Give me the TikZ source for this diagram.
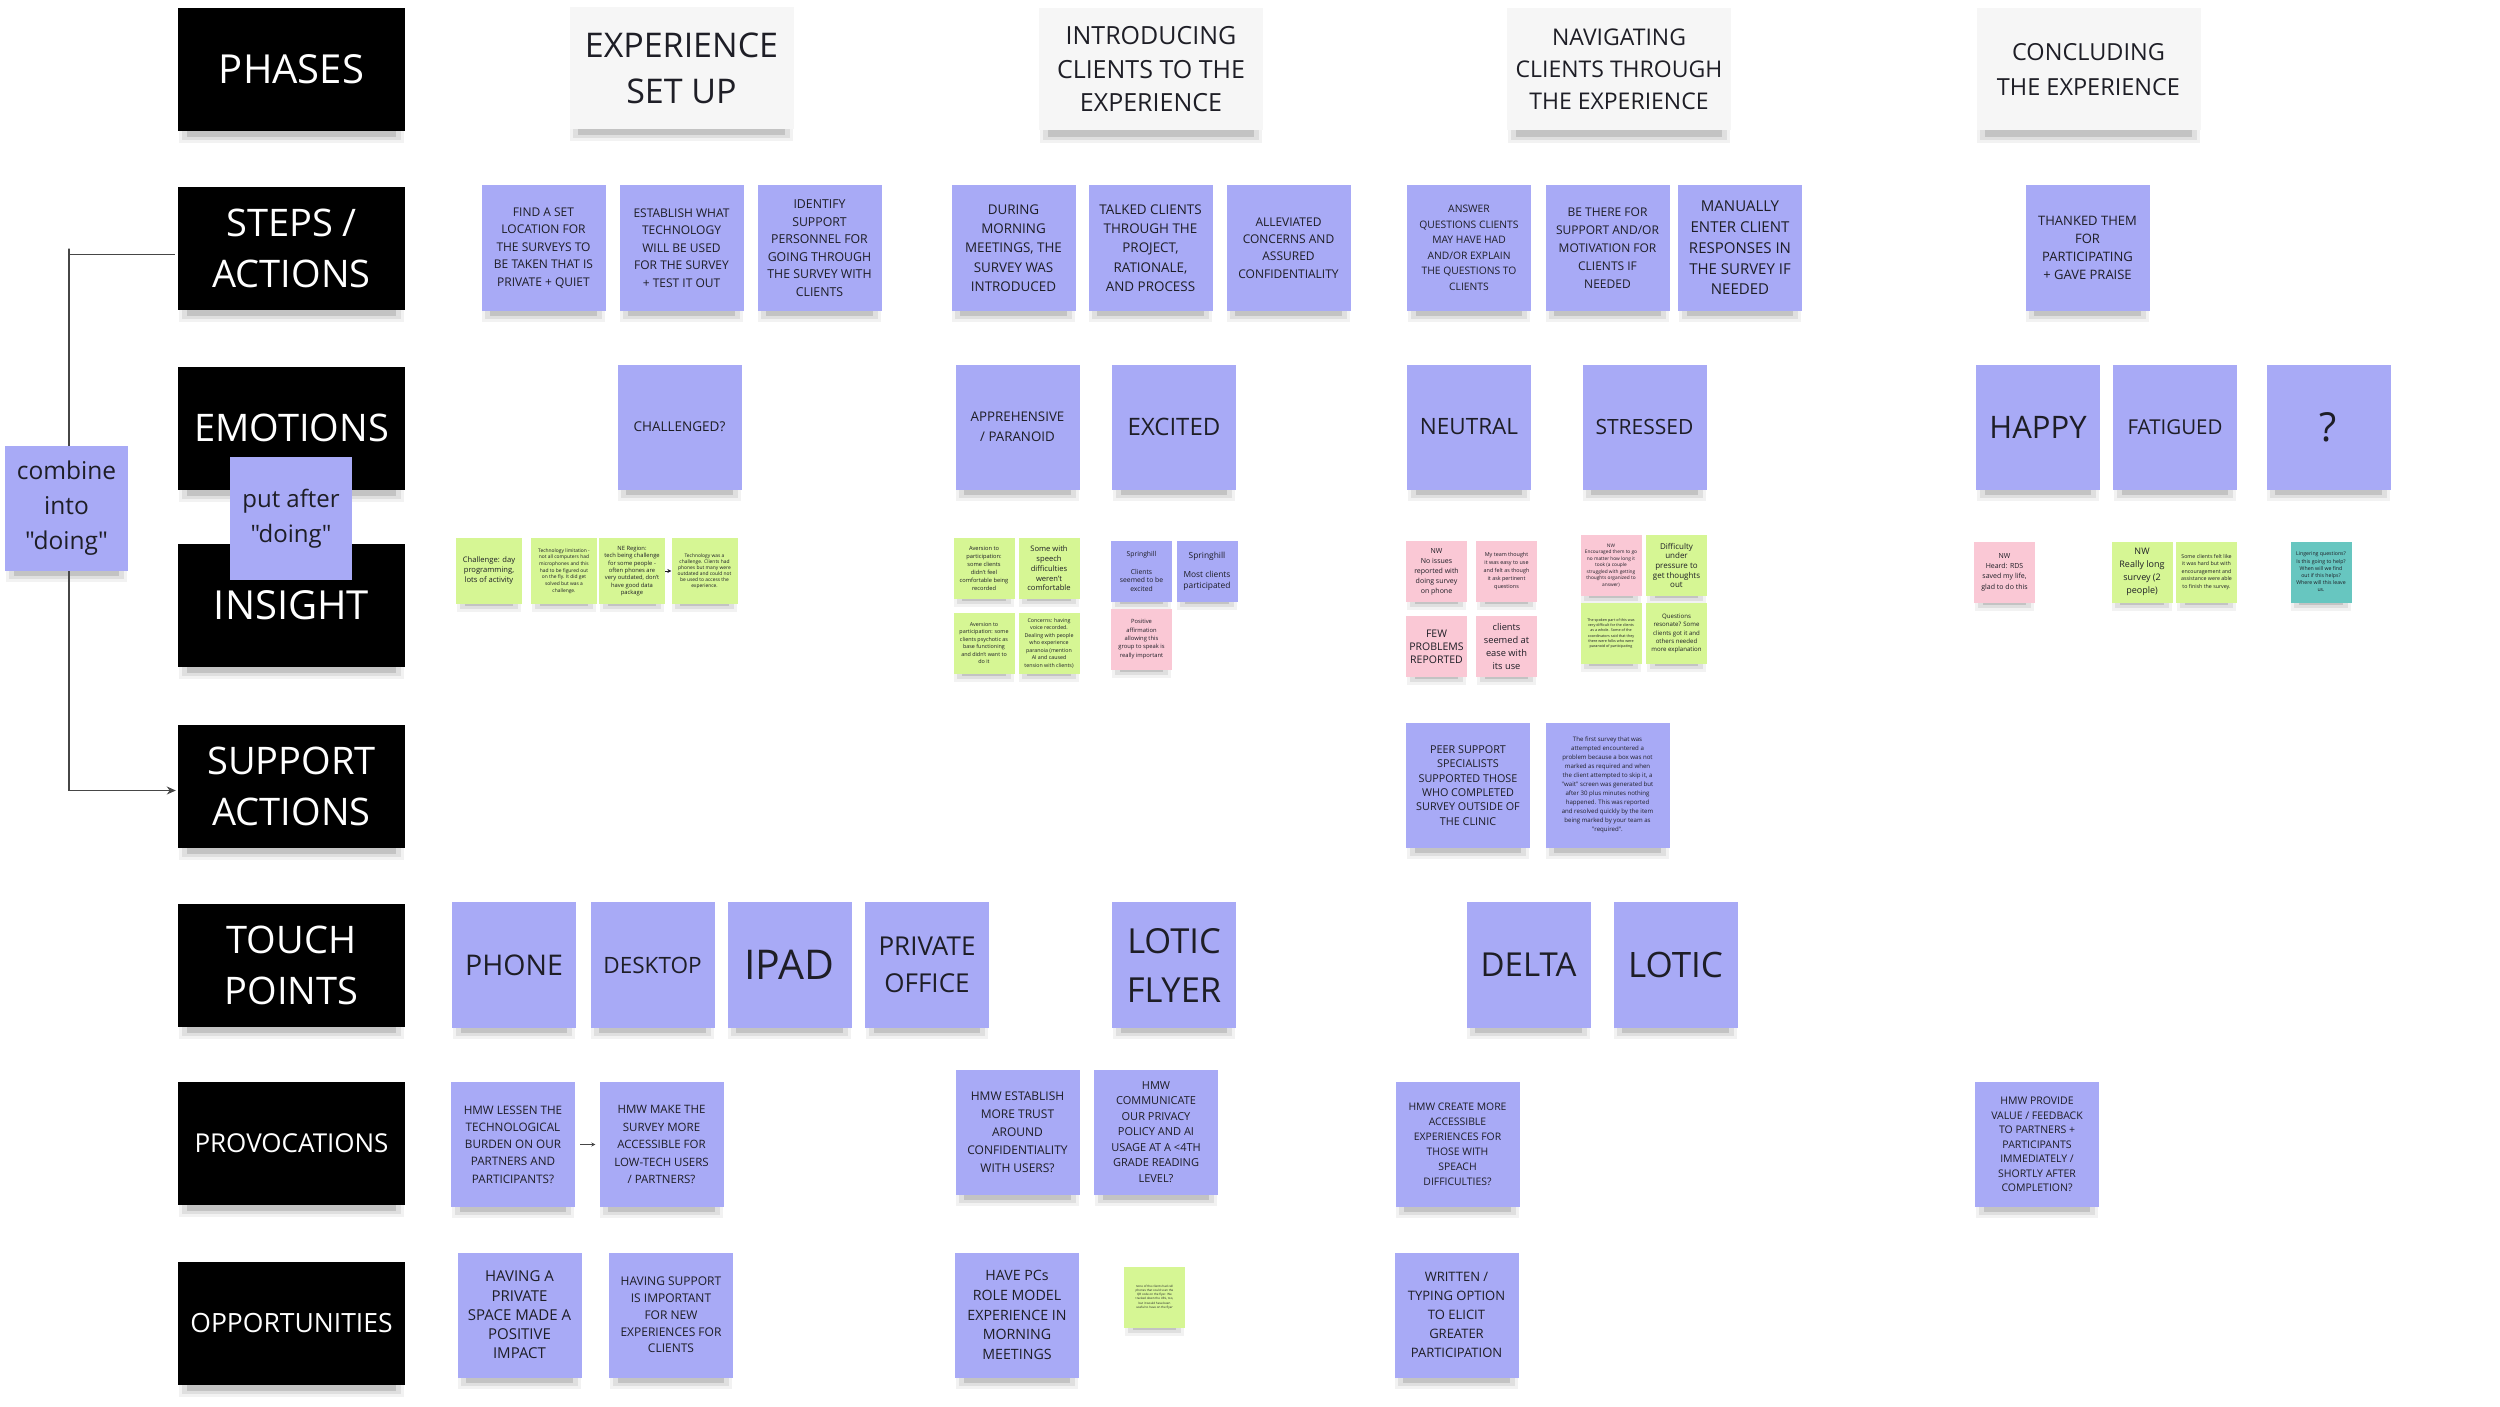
\documentclass[tikz,border=0pt]{standalone}
\usepackage{fontspec}
\setmainfont{Open Sans}
\newfontfamily\osq{Open Sans}
\usetikzlibrary{arrows.meta,calc}
\pgfdeclarelayer{paper}
\pgfdeclarelayer{shade}
\pgfsetlayers{paper,shade,main}
\definecolor{pur}{RGB}{168,170,246}
\definecolor{lim}{RGB}{214,246,148}
\definecolor{pnk}{RGB}{250,200,213}
\definecolor{tea}{RGB}{103,198,192}
\definecolor{ink}{RGB}{30,30,38}
\definecolor{hdr}{RGB}{246,246,246}
\definecolor{lnk}{RGB}{70,70,70}
\newcommand\fsz[2]{\fontsize{#1}{#2}\selectfont}
\newcommand\nshadow[2]{%
  \fill[black,opacity=.05] ($(#1.south west)+(1,#2+3)$) rectangle ($(#1.south east)+(-1,-12)$);
  \fill[black,opacity=.08] ($(#1.south west)+(4,#2)$) rectangle ($(#1.south east)+(-4,-12)$);
  \fill[black,opacity=.12] ($(#1.south west)+(9,#2-3)$) rectangle ($(#1.south east)+(-9,-12)$);
}
\begin{document}
\begin{tikzpicture}[x=1pt,y=-1pt,
  note/.style={inner sep=0pt,align=center,text=ink},
  big/.style={note,minimum width=124pt,minimum height=125pt},
  sm/.style={note,minimum width=61pt,minimum height=61pt},
  P/.style={fill=pur},G/.style={fill=lim},K/.style={fill=pnk},T/.style={fill=tea},
  lab/.style={fill=black,text=white,minimum width=227pt,minimum height=123pt,inner sep=0pt,align=center},
  hd/.style={fill=hdr,text=ink,minimum width=224pt,minimum height=122pt,inner sep=0pt,align=center},
  conn/.style={draw=lnk,line width=1.3pt}]
\begin{pgfonlayer}{paper}
\fill[white] (0,0) rectangle (2500,1407);
\end{pgfonlayer}
\useasboundingbox (0,0) rectangle (2500,1407);

% row labels
\node[lab,font=\fsz{40}{51}] (phases) at (291.5,69.5) {PHASES};
\node[lab,font=\fsz{38}{51}] (steps) at (291.5,248.5) {STEPS /\\ACTIONS};
\node[lab,font=\fsz{38}{51}] (emotions) at (291.5,428) {EMOTIONS};
\node[lab,font=\fsz{40}{51}] (insight) at (291.5,605.5) {INSIGHT};
\node[lab,font=\fsz{38}{51}] (support) at (291.5,786.5) {SUPPORT\\ACTIONS};
\node[lab,font=\fsz{38}{51}] (touch) at (291.5,965.5) {TOUCH\\POINTS};
\node[lab,font=\fsz{26}{34}] (provoc) at (291.5,1143.5) {PROVOCATIONS};
\node[lab,font=\fsz{26.5}{34}] (opps) at (291.5,1323) {OPPORTUNITIES};

% connector on the left
\coordinate (lft) at (69,0);
\draw[conn,-{Stealth[length=9pt,width=8pt]},shorten <=3pt,shorten >=2pt]
  ([yshift=-6pt]steps.west) -| (lft |- steps.west) |- ([yshift=-4pt]support.west);

% phase headers
\node[hd,font=\fsz{34}{46}] (h1) at (681.5,68) {EXPERIENCE\\SET UP};
\node[hd,font=\fsz{25}{33.5}] (h2) at (1151,69.5) {INTRODUCING\\CLIENTS TO THE\\EXPERIENCE};
\node[hd,font=\fsz{23}{32}] (h3) at (1619,69.5) {NAVIGATING\\CLIENTS THROUGH\\THE EXPERIENCE};
\node[hd,font=\fsz{23.5}{35}] (h4) at (2088.5,69.5) {CONCLUDING\\THE EXPERIENCE};

% steps / actions
\node[big,P,font=\fsz{12}{17.5}] (s1) at (543.5,248) {FIND A SET\\LOCATION FOR\\THE SURVEYS TO\\BE TAKEN THAT IS\\PRIVATE + QUIET};
\node[big,P,font=\fsz{12}{17.5}] (s2) at (681.5,248) {ESTABLISH WHAT\\TECHNOLOGY\\WILL BE USED\\FOR THE SURVEY\\+ TEST IT OUT};
\node[big,P,font=\fsz{12.3}{17.5}] (s3) at (819.5,248) {IDENTIFY\\SUPPORT\\PERSONNEL FOR\\GOING THROUGH\\THE SURVEY WITH\\CLIENTS};
\node[big,P,font=\fsz{13.4}{19.3}] (s4) at (1013.5,248) {DURING\\MORNING\\MEETINGS, THE\\SURVEY WAS\\INTRODUCED};
\node[big,P,font=\fsz{13.4}{19.3}] (s5) at (1150.5,248) {TALKED CLIENTS\\THROUGH THE\\PROJECT,\\RATIONALE,\\AND PROCESS};
\node[big,P,font=\fsz{12}{17.3}] (s6) at (1288.5,248) {ALLEVIATED\\CONCERNS AND\\ASSURED\\CONFIDENTIALITY};
\node[big,P,font=\fsz{10.3}{15.5}] (s7) at (1469,248) {ANSWER\\QUESTIONS CLIENTS\\MAY HAVE HAD\\AND/OR EXPLAIN\\THE QUESTIONS TO\\CLIENTS};
\node[big,P,font=\fsz{12}{18}] (s8) at (1607.5,248) {BE THERE FOR\\SUPPORT AND/OR\\MOTIVATION FOR\\CLIENTS IF\\NEEDED};
\node[big,P,font=\fsz{15}{20.7}] (s9) at (1740,248) {MANUALLY\\ENTER CLIENT\\RESPONSES IN\\THE SURVEY IF\\NEEDED};
\node[big,P,font=\fsz{13}{18}] (s10) at (2087.5,248) {THANKED THEM\\FOR\\PARTICIPATING\\+ GAVE PRAISE};

% emotions
\node[big,P,font=\fsz{13.5}{20}] (e1) at (679.5,427) {CHALLENGED?};
\node[big,P,font=\fsz{13.3}{20}] (e2) at (1017.5,427) {APPREHENSIVE\\/ PARANOID};
\node[big,P,font=\fsz{24}{30}] (e3) at (1174,427) {EXCITED};
\node[big,P,font=\fsz{22.5}{30}] (e4) at (1469,427) {NEUTRAL};
\node[big,P,font=\fsz{21}{30}] (e5) at (1644.5,427) {STRESSED};
\node[big,P,font=\fsz{31}{36}] (e6) at (2038,427) {HAPPY};
\node[big,P,font=\fsz{20.5}{30}] (e7) at (2175,427) {FATIGUED};
\node[big,P,font=\fsz{40}{46}] (e8) at (2328.5,427) {?};

% insight - experience set up
\node[sm,G,minimum width=66pt,minimum height=66pt,font=\fsz{7.6}{10}] (i1) at (489,571) {Challenge: day\\programming,\\lots of activity};
\node[sm,G,minimum width=66pt,minimum height=66pt,font=\fsz{4.9}{6.7}] (i2) at (564,571) {Technology limitation -\\not all computers had\\microphones and this\\had to be figured out\\on the fly. It did get\\solved but was a\\challenge.};
\node[sm,G,minimum width=66pt,minimum height=66pt,font=\fsz{5.8}{7.3}] (i3) at (632,571) {NE Region:\\tech being challenge\\for some people -\\often phones are\\very outdated, don't\\have good data\\package};
\node[sm,G,minimum width=66pt,minimum height=66pt,font=\fsz{4.9}{6.1}] (i4) at (704.5,571) {Technology was a\\challenge. Clients had\\phones but many were\\outdated and could not\\be used to access the\\experience.};
\draw[-{Stealth[length=4pt,width=4pt]},line width=0.6pt,draw=ink] (i3.east) -- (i4.west);

% insight - introducing
\node[sm,G,font=\fsz{5.7}{8}] (gA) at (984,568.5) {Aversion to\\participation:\\some clients\\didn't feel\\comfortable being\\recorded};
\node[sm,G,font=\fsz{7.6}{9.8}] (gB) at (1049,568.5) {Some with\\speech\\difficulties\\weren't\\comfortable};
\node[sm,G,font=\fsz{5.4}{7.5}] (gC) at (984,643) {Aversion to\\participation: some\\clients psychotic as\\base functioning\\and didn't want to\\do it};
\node[sm,G,font=\fsz{5.3}{7.5}] (gD) at (1049,643) {Concerns: having\\voice recorded.\\Dealing with people\\who experience\\paranoia (mention\\AI and caused\\tension with clients)};
\node[sm,P,font=\fsz{6.8}{8.7}] (pS1) at (1141.5,571.5) {Springhill\\[8.7pt]Clients\\seemed to be\\excited};
\node[sm,P,font=\fsz{8.4}{11.7}] (pS2) at (1207,571.5) {Springhill\\[7pt]Most clients\\participated};
\node[sm,K,font=\fsz{5.8}{8.3}] (kI) at (1141.5,639) {Positive\\affirmation\\allowing this\\group to speak is\\really important};

% insight - navigating
\node[sm,K,font=\fsz{7}{10}] (k1) at (1436.5,571.5) {NW\\No issues\\reported with\\doing survey\\on phone};
\node[sm,K,font=\fsz{5.4}{8}] (k2) at (1506.5,571.5) {My team thought\\it was easy to use\\and felt as though\\it ask pertinent\\questions};
\node[sm,K,font=\fsz{10.5}{13}] (k3) at (1436.5,646.5) {FEW\\PROBLEMS\\REPORTED};
\node[sm,K,font=\fsz{9.3}{13}] (k4) at (1506.5,646.5) {clients\\seemed at\\ease with\\its use};
\node[sm,K,font=\fsz{4.8}{6.5}] (k5) at (1611,565.5) {NW\\Encouraged them to go\\no matter how long it\\took (a couple\\struggled with getting\\thoughts organized to\\answer)};
\node[sm,G,font=\fsz{8}{9.7}] (g6) at (1676.5,565.5) {Difficulty\\under\\pressure to\\get thoughts\\out};
\node[sm,G,font=\fsz{3.7}{5.3}] (g7) at (1611,633.5) {The spoken part of this was\\very difficult for the clients\\as a whole. Some of the\\coordinators said that they\\there were folks who were\\paranoid of participating};
\node[sm,G,font=\fsz{6.1}{8.3}] (g8) at (1676.5,633.5) {Questions\\resonate? Some\\clients got it and\\others needed\\more explanation};

% insight - concluding
\node[sm,K,font=\fsz{7}{10.3}] (kc) at (2004.5,572) {NW\\Heard: RDS\\saved my life,\\glad to do this};
\node[sm,G,font=\fsz{9}{13}] (gc1) at (2142,572) {NW\\Really long\\survey (2\\people)};
\node[sm,G,font=\fsz{5.3}{7.6}] (gc2) at (2206.5,572) {Some clients felt like\\it was hard but with\\encouragement and\\assistance were able\\to finish the survey.};
\node[sm,T,font=\fsz{5.2}{7.2}] (tc) at (2321,572) {Lingering questions?\\Is this going to help?\\When will we find\\out if this helps?\\Where will this leave\\us.};

% put after / combine notes
\node[big,P,minimum width=122pt,minimum height=123pt,font=\osq\fsz{24}{35}] (putafter) at (291,518.5) {put after\\"doing"};
\node[big,P,minimum width=123pt,font=\osq\fsz{24.5}{35}] (combine) at (66.5,508.5) {combine\\into\\"doing"};

% support actions
\node[big,P,font=\fsz{10.8}{14.3}] (sup1) at (1468,785.5) {PEER SUPPORT\\SPECIALISTS\\SUPPORTED THOSE\\WHO COMPLETED\\SURVEY OUTSIDE OF\\THE CLINIC};
\node[big,P,font=\osq\fsz{6.1}{9}] (sup2) at (1607.5,785) {The first survey that was\\attempted encountered a\\problem because a box was not\\marked as required and when\\the client attempted to skip it, a\\"wait" screen was generated but\\after 30 plus minutes nothing\\happened. This was reported\\and resolved quickly by the item\\being marked by your team as\\"required".};

% touch points
\node[big,P,minimum height=126pt,font=\fsz{28.5}{36}] (t1) at (514,965) {PHONE};
\node[big,P,minimum height=126pt,font=\fsz{22.5}{36}] (t2) at (652.5,965) {DESKTOP};
\node[big,P,minimum height=126pt,font=\fsz{41}{48}] (t3) at (789.5,965) {IPAD};
\node[big,P,minimum height=126pt,font=\fsz{26}{37}] (t4) at (927,965) {PRIVATE\\OFFICE};
\node[big,P,minimum height=126pt,font=\fsz{34.5}{49}] (t5) at (1174,965) {LOTIC\\FLYER};
\node[big,P,minimum height=126pt,font=\fsz{33}{40}] (t6) at (1528.5,965) {DELTA};
\node[big,P,minimum height=126pt,font=\fsz{35}{40}] (t7) at (1675.5,965) {LOTIC};

% provocations
\node[big,P,font=\fsz{11.7}{17.3}] (p1) at (513,1144.5) {HMW LESSEN THE\\TECHNOLOGICAL\\BURDEN ON OUR\\PARTNERS AND\\PARTICIPANTS?};
\node[big,P,font=\fsz{11.5}{17.5}] (p2) at (661.5,1144.5) {HMW MAKE THE\\SURVEY MORE\\ACCESSIBLE FOR\\LOW-TECH USERS\\/ PARTNERS?};
\draw[-{Stealth[length=4pt,width=4pt]},line width=0.8pt,draw=lnk,shorten <=5pt,shorten >=4pt] (p1.east) -- (p2.west);
\node[big,P,font=\fsz{12}{18}] (p3) at (1017.5,1132) {HMW ESTABLISH\\MORE TRUST\\AROUND\\CONFIDENTIALITY\\WITH USERS?};
\node[big,P,font=\fsz{11}{15.5}] (p4) at (1156,1132) {HMW\\COMMUNICATE\\OUR PRIVACY\\POLICY AND AI\\USAGE AT A <4TH\\GRADE READING\\LEVEL?};
\node[big,P,font=\fsz{10.4}{15}] (p5) at (1457.5,1144.5) {HMW CREATE MORE\\ACCESSIBLE\\EXPERIENCES FOR\\THOSE WITH\\SPEACH\\DIFFICULTIES?};
\node[big,P,font=\fsz{10.5}{14.5}] (p6) at (2037,1144.5) {HMW PROVIDE\\VALUE / FEEDBACK\\TO PARTNERS +\\PARTICIPANTS\\IMMEDIATELY /\\SHORTLY AFTER\\COMPLETION?};

% opportunities
\node[big,P,font=\fsz{15}{19.3}] (o1) at (519.5,1315) {HAVING A\\PRIVATE\\SPACE MADE A\\POSITIVE\\IMPACT};
\node[big,P,font=\fsz{12}{16.7}] (o2) at (671,1315) {HAVING SUPPORT\\IS IMPORTANT\\FOR NEW\\EXPERIENCES FOR\\CLIENTS};
\node[big,P,font=\fsz{14.2}{19.8}] (o3) at (1017,1315) {HAVE PCs\\ROLE MODEL\\EXPERIENCE IN\\MORNING\\MEETINGS};
\node[sm,G,font=\fsz{3}{4.3}] (o4) at (1154.5,1297) {none of the clients had cell\\phones that could scan the\\QR code on the flyer. We\\tracked down the URL, too,\\but it would have been\\useful to have on the flyer};
\node[big,P,font=\fsz{13}{19}] (o5) at (1456.5,1315) {WRITTEN /\\TYPING OPTION\\TO ELICIT\\GREATER\\PARTICIPATION};

% shadows
\begin{pgfonlayer}{shade}
\foreach \n in {phases,steps,emotions,insight,support,touch,provoc,opps,h1,h2,h3,h4} {\nshadow{\n}{9}}
\foreach \n in {s1,s2,s3,s4,s5,s6,s7,s8,s9,s10,e1,e2,e3,e4,e5,e6,e7,e8,putafter,combine,sup1,sup2,t1,t2,t3,t4,t5,t6,t7,p1,p2,p3,p4,p5,p6,o1,o2,o3,o5} {\nshadow{\n}{8}}
\foreach \n in {i1,i2,i3,i4,gA,gB,gC,gD,pS1,pS2,kI,k1,k2,k3,k4,k5,g6,g7,g8,kc,gc1,gc2,tc,o4} {\nshadow{\n}{5}}
\end{pgfonlayer}
\end{tikzpicture}
\end{document}
